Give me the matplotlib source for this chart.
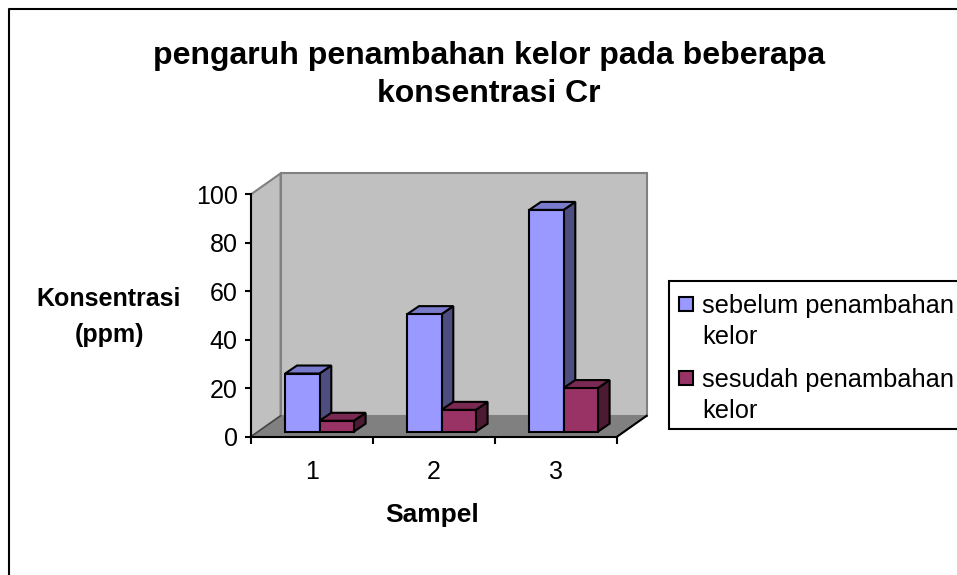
import matplotlib
matplotlib.use('Agg')
import matplotlib.pyplot as plt
from matplotlib.patches import Polygon, Rectangle
from matplotlib.lines import Line2D

plt.rcParams['font.family'] = ['Liberation Sans', 'DejaVu Sans']

W, H = 957, 575

categories = ['1', '2', '3']
sebelum = [24, 48.5, 91.5]
sesudah = [4.5, 9, 18]
yticks = [0, 20, 40, 60, 80, 100]
series_names = ['sebelum penambahan\nkelor', 'sesudah penambahan\nkelor']
front_colors = ['#9999FF', '#993366']
side_colors = ['#4D4D80', '#4D1A33']
top_colors = ['#7A7ACC', '#7A2952']

fig = plt.figure(figsize=(W / 100, H / 100), dpi=100, facecolor='white')
ax = fig.add_axes([251 / W, 1 - 436.7 / H, 366 / W, 242.4 / H])
ax.set_xlim(0, 3)
ax.set_ylim(0, 100)
ax.patch.set_visible(False)

# pixel sizes in data units
ux = 3 / 366
uy = 100 / 242.4
wall_dx, wall_dy = 29.6 * ux, 20.9 * uy
bar_dx, bar_dy = 11.8 * ux, 8 * uy
bar_w = 34.3 * ux
base = 5 * uy
shift = 7.5 * ux


def face(points, color, edge='black', lw=1.5, z=2):
    ax.add_patch(Polygon(points, closed=True, facecolor=color, edgecolor=edge,
                         linewidth=lw, clip_on=False, zorder=z, joinstyle='miter'))


# walls and floor
face([(0, 0), (wall_dx, wall_dy), (wall_dx, 100 + wall_dy), (0, 100)], '#C0C0C0', '#808080', 1.5, 1)
face([(wall_dx, wall_dy), (3 + wall_dx, wall_dy), (3 + wall_dx, 100 + wall_dy), (wall_dx, 100 + wall_dy)],
     '#C0C0C0', '#808080', 1.5, 1)
face([(0, 0), (3, 0), (3 + wall_dx, wall_dy), (wall_dx, wall_dy)], '#808080', '#808080', 1, 1.5)
ax.plot([3, 3 + wall_dx], [0, wall_dy], color='black', lw=1.5, clip_on=False, zorder=1.6)
ax.plot([0, wall_dx], [0, wall_dy], color='#404040', lw=1, clip_on=False, zorder=1.6)

# bars, drawn left to right so the nearer faces cover the sides
z = 2
for i in range(len(categories)):
    center = i + 0.5 + shift
    for j, vals in enumerate([sebelum, sesudah]):
        x0 = center - bar_w + j * bar_w
        x1 = x0 + bar_w
        top = base + vals[i]
        face([(x1, base), (x1 + bar_dx, base + bar_dy), (x1 + bar_dx, top + bar_dy), (x1, top)],
             side_colors[j], z=z)
        face([(x0, top), (x1, top), (x1 + bar_dx, top + bar_dy), (x0 + bar_dx, top + bar_dy)],
             top_colors[j], z=z)
        ax.bar(x0, vals[i], bar_w, bottom=base, align='edge', color=front_colors[j],
               edgecolor='black', linewidth=1.5, clip_on=False, zorder=z + 0.1)
        z += 0.2

for s in ['top', 'right']:
    ax.spines[s].set_visible(False)
for s in ['left', 'bottom']:
    ax.spines[s].set_linewidth(1.5)
    ax.spines[s].set_zorder(20)

ax.set_yticks(yticks)
ax.set_xticks([0, 1, 2, 3])
ax.set_xticks([0.5, 1.5, 2.5], categories, minor=True)
ax.set_xticklabels([])
ax.tick_params(axis='x', which='major', length=5, width=1.5)
ax.tick_params(axis='x', which='minor', length=0, labelsize=18, pad=17)
ax.tick_params(axis='y', length=4, width=1.5, labelsize=18, pad=5.5)

fig.text(432 / W, 1 - 515 / H, 'Sampel', fontsize=19, fontweight='bold', ha='center', va='center')
fig.text(109 / W, 1 - 317 / H, 'Konsentrasi\n(ppm)', fontsize=18, fontweight='bold',
         ha='center', va='center', linespacing=1.65)
fig.text(489 / W, 1 - 75 / H, 'pengaruh penambahan kelor pada beberapa\nkonsentrasi Cr', fontsize=23,
         fontweight='bold', ha='center', va='center', linespacing=1.39)

# chart frame
fig.add_artist(Line2D([9 / W, 9 / W, 1], [0, 1 - 8.5 / H, 1 - 8.5 / H], color='black', lw=1.5))

# legend box runs off the right edge like the original
fig.add_artist(Rectangle((669 / W, 1 - 428.5 / H), 300 / W, 148 / H, transform=fig.transFigure,
                         facecolor='white', edgecolor='black', linewidth=1.5))
for name, color, y in zip(series_names, front_colors, [297, 371]):
    fig.add_artist(Rectangle((679 / W, 1 - (y + 14) / H), 14 / W, 14 / H, transform=fig.transFigure,
                             facecolor=color, edgecolor='black', linewidth=1.5))
    fig.text(702 / W, 1 - (y - 3.5) / H, name, fontsize=18.3, ha='left', va='top', linespacing=1.4)

fig.savefig('out.png', dpi=100)
